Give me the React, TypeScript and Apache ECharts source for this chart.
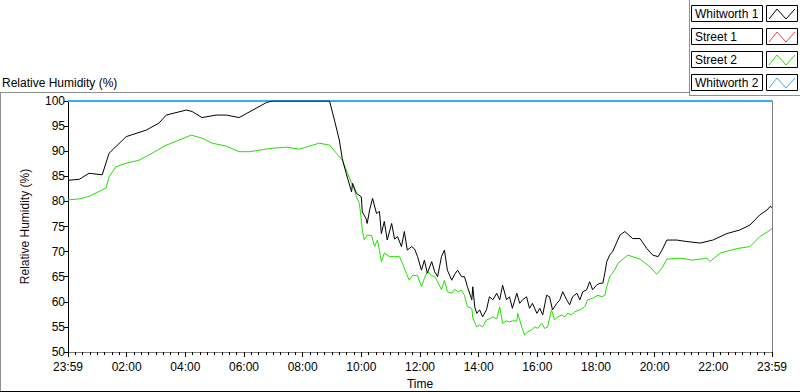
import React, { useEffect, useRef } from "react";
import * as echarts from "echarts";

// Time in minutes since 23:59 (0 = 23:59 start, 1440 = 23:59 end)
const whitworth1Time = [
  0, 23, 43, 70, 84, 119, 160, 186, 201, 242, 254, 274, 303, 324, 350, 365, 406, 418, 535,
  545, 555, 561, 569, 580, 582, 590, 600, 602, 610, 612, 617, 623, 631, 637, 641, 647, 653,
  662, 668, 674, 682, 688, 694, 703, 709, 715, 723, 729, 735, 744, 750, 756, 764, 770, 776,
  785, 791, 797, 805, 811, 817, 826, 828, 832, 836, 842, 848, 856, 862, 869, 877, 883, 889,
  897, 903, 909, 918, 924, 930, 938, 944, 950, 959, 965, 971, 979, 985, 991, 1000, 1006,
  1012, 1020, 1026, 1032, 1041, 1047, 1053, 1061, 1067, 1073, 1082, 1088, 1094, 1098, 1102,
  1108, 1114, 1129, 1139, 1155, 1170, 1184, 1196, 1207, 1215, 1225, 1245, 1266, 1293, 1319,
  1348, 1374, 1395, 1415, 1430, 1436, 1440,
];
const whitworth1Values = [
  84.2, 84.4, 85.6, 85.3, 89.6, 92.9, 94.2, 95.6, 97.2, 98.2, 97.9, 96.7, 97.2, 97.2, 96.7,
  97.5, 99.7, 100, 100, 96.2, 92.2, 88.5, 85.6, 81.9, 83.6, 81.6, 80.9, 77.9, 76.5, 75.6,
  78.3, 80.6, 77.6, 78, 73.6, 76, 72.3, 75.6, 72.5, 73, 71, 74, 70.3, 71, 70.5, 69, 66.3,
  68.3, 65.7, 68, 66, 65, 69, 70.3, 66.3, 64.3, 65.5, 66.3, 65, 65, 63, 60.4, 63, 59, 57.7,
  58.4, 57, 58.4, 61, 60.4, 61.7, 60.4, 63.3, 60.4, 61, 58.7, 61.7, 59.7, 60.4, 61, 58.7,
  59.7, 57.7, 58.7, 57.4, 61.3, 61, 58.4, 59.7, 60.4, 62, 60.4, 59.4, 61, 61.7, 60.4, 62,
  62.4, 64, 62.4, 63.4, 63.7, 63.7, 65.7, 68, 69.3, 70, 73.3, 74, 72.6, 72.6, 70.6, 69.3, 69,
  70.3, 72.3, 72.3, 72, 71.7, 72.3, 73.6, 74.3, 75.3, 77.3, 78.3, 79, 78.8,
];

const street1Time = [0, 1440];
const street1Values = [100, 100];

const street2Time = [
  0, 23, 43, 70, 78, 84, 98, 119, 145, 172, 201, 227, 252, 274, 295, 324, 350, 371, 391, 418,
  447, 473, 514, 535, 549, 561, 569, 576, 586, 590, 596, 600, 602, 606, 612, 621, 627, 633,
  637, 641, 647, 658, 668, 678, 684, 692, 698, 705, 715, 723, 729, 735, 744, 750, 756, 764,
  770, 776, 785, 791, 797, 805, 811, 817, 826, 828, 836, 842, 848, 856, 862, 869, 877, 883,
  889, 897, 903, 909, 918, 920, 928, 934, 940, 948, 955, 961, 969, 975, 981, 989, 995, 1002,
  1010, 1016, 1022, 1030, 1036, 1047, 1057, 1063, 1073, 1084, 1092, 1098, 1102, 1108, 1118,
  1125, 1145, 1170, 1190, 1204, 1215, 1225, 1252, 1278, 1307, 1313, 1334, 1368, 1395, 1415,
  1432, 1440,
];
const street2Values = [
  80.3, 80.5, 81, 82.3, 82.7, 84.9, 86.9, 87.6, 88.2, 89.6, 91.2, 92.2, 93.2, 92.6, 91.6, 91,
  89.9, 89.9, 90.2, 90.6, 90.8, 90.4, 91.6, 91.2, 89.6, 88.2, 86.3, 84.6, 82.3, 80.9, 79.6,
  76.3, 74.3, 72.3, 73.3, 73.2, 71, 72.3, 70.3, 68, 69.7, 69, 69, 69, 67.7, 65.7, 64.3, 65.3,
  65.2, 63, 64.7, 66, 65.2, 65, 64, 62.4, 64.3, 62, 61.7, 62.5, 62, 62.3, 61.3, 59, 58.7,
  56.8, 55, 55.4, 55, 56.4, 56.6, 57, 56.6, 59, 55.7, 56.2, 56, 56.2, 56.2, 57.7, 55, 53.4,
  54, 54.4, 55, 54.7, 55.7, 54.7, 55, 58.4, 56.4, 57, 57.4, 57, 57.7, 57.4, 58, 58.4, 59,
  60.4, 60.7, 61.3, 61, 61.3, 63, 65, 66.3, 67.7, 69.3, 68.5, 67, 65.5, 66.7, 68.5, 68.7,
  68.3, 68.7, 68, 69.7, 70.6, 71, 73, 74, 74.6,
];

const whitworth2Time = [0, 1440];
const whitworth2Values = [100, 100];

const seriesNames = ["Whitworth 1", "Street 1", "Street 2", "Whitworth 2"];
const seriesColors = ["#000000", "#ff3a3a", "#22e000", "#33b0f0"];

const yTicks = { min: 50, max: 100, interval: 5 };
const xTicks = { min: 0, max: 1440, interval: 120 };

const FONT = "Liberation Sans, Arial, sans-serif";

function zip(t: number[], v: number[]) {
  return t.map((x, i) => [x, v[i]]);
}

function fmtTime(v: number) {
  if (v === 0 || v === 1440) return "23:59";
  const h = Math.round(v / 60);
  return (h < 10 ? "0" : "") + h + ":00";
}

export default function App() {
  const ref = useRef<HTMLDivElement>(null);
  useEffect(() => {
    document.body.style.margin = "0";
    if (!ref.current) return;
    const chart = echarts.init(ref.current, null, { renderer: "svg" });

    const legendGraphics: any[] = [];
    seriesNames.forEach((name, i) => {
      const top = 5 + i * 23;
      legendGraphics.push({
        type: "rect",
        shape: { x: 691.5, y: top + 0.5, width: 71, height: 16 },
        style: { fill: "#fff", stroke: "#000", lineWidth: 1 },
      });
      legendGraphics.push({
        type: "text",
        x: 695,
        y: top + 9,
        style: {
          text: name,
          fill: "#000",
          font: `12px ${FONT}`,
          verticalAlign: "middle",
        },
      });
      legendGraphics.push({
        type: "rect",
        shape: { x: 766.5, y: top + 0.5, width: 31, height: 16 },
        style: { fill: "#fff", stroke: "#000", lineWidth: 1 },
      });
      legendGraphics.push({
        type: "polyline",
        shape: {
          points: [
            [769, top + 14],
            [777, top + 4],
            [786, top + 14],
            [795, top + 4],
          ],
        },
        style: { stroke: seriesColors[i], lineWidth: 1, fill: null },
      });
    });

    const option: any = {
      animation: false,
      backgroundColor: "#fff",
      textStyle: { fontFamily: FONT },
      grid: {
        left: 68,
        right: 28,
        top: 101,
        bottom: 40,
        containLabel: false,
        outerBoundsMode: "none",
      },
      xAxis: {
        type: "value",
        min: xTicks.min,
        max: xTicks.max,
        interval: xTicks.interval,
        name: "Time",
        nameLocation: "middle",
        nameGap: 25,
        nameTextStyle: { color: "#000", fontSize: 12, fontFamily: FONT },
        axisLine: { show: true, onZero: false, lineStyle: { color: "#808080", width: 1 } },
        axisTick: { show: true, length: 5, lineStyle: { color: "#000" } },
        minorTick: { show: true, splitNumber: 8, length: 3, lineStyle: { color: "#000" } },
        axisLabel: {
          formatter: fmtTime,
          color: "#000",
          fontSize: 12,
          fontFamily: FONT,
          margin: 9,
          showMinLabel: true,
          showMaxLabel: true,
        },
        splitLine: { show: false },
      },
      yAxis: [
        {
          type: "value",
          min: yTicks.min,
          max: yTicks.max,
          interval: yTicks.interval,
          name: "Relative Humidity (%)",
          nameLocation: "middle",
          nameGap: 37,
          nameTextStyle: { color: "#1a0a10", fontSize: 12, fontFamily: FONT },
          axisLine: { show: true, lineStyle: { color: "#000", width: 1 } },
          axisTick: { show: true, length: 4, lineStyle: { color: "#000" } },
          axisLabel: { color: "#000", fontSize: 12, fontFamily: FONT, margin: 3 },
          splitLine: { show: false },
        },
        {
          type: "value",
          min: yTicks.min,
          max: yTicks.max,
          position: "right",
          axisLine: { show: true, lineStyle: { color: "#808080", width: 1 } },
          axisTick: { show: false },
          axisLabel: { show: false },
          splitLine: { show: false },
        },
      ],
      series: [
        {
          name: seriesNames[0],
          type: "line",
          data: zip(whitworth1Time, whitworth1Values),
          showSymbol: false,
          lineStyle: { color: seriesColors[0], width: 1 },
          z: 4,
        },
        {
          name: seriesNames[1],
          type: "line",
          data: zip(street1Time, street1Values),
          showSymbol: false,
          lineStyle: { color: seriesColors[1], width: 2 },
          z: 1,
        },
        {
          name: seriesNames[2],
          type: "line",
          data: zip(street2Time, street2Values),
          showSymbol: false,
          lineStyle: { color: seriesColors[2], width: 1 },
          z: 3,
        },
        {
          name: seriesNames[3],
          type: "line",
          data: zip(whitworth2Time, whitworth2Values),
          showSymbol: false,
          lineStyle: { color: seriesColors[3], width: 2 },
          z: 2,
        },
      ],
      graphic: [
        {
          type: "text",
          x: 2,
          y: 83,
          style: {
            text: "Relative Humidity (%)",
            fill: "#000",
            font: `12px ${FONT}`,
            verticalAlign: "middle",
          },
        },
        {
          type: "line",
          shape: { x1: 0, y1: 92.5, x2: 689, y2: 92.5 },
          style: { stroke: "#909090", lineWidth: 1 },
        },
        {
          type: "line",
          shape: { x1: 689.5, y1: 0, x2: 689.5, y2: 95 },
          style: { stroke: "#909090", lineWidth: 1 },
        },
        {
          type: "line",
          shape: { x1: 689, y1: 95.5, x2: 800, y2: 95.5 },
          style: { stroke: "#909090", lineWidth: 1 },
        },
        {
          type: "line",
          shape: { x1: 0.5, y1: 92, x2: 0.5, y2: 392 },
          style: { stroke: "#909090", lineWidth: 1 },
        },
        {
          type: "line",
          shape: { x1: 0, y1: 391.5, x2: 800, y2: 391.5 },
          style: { stroke: "#000", lineWidth: 1 },
        },
        ...legendGraphics,
      ],
    };
    chart.setOption(option);
    return () => chart.dispose();
  }, []);
  return (
    <div
      ref={ref}
      style={{ position: "fixed", left: 0, top: 0, width: 800, height: 392 }}
    />
  );
}
